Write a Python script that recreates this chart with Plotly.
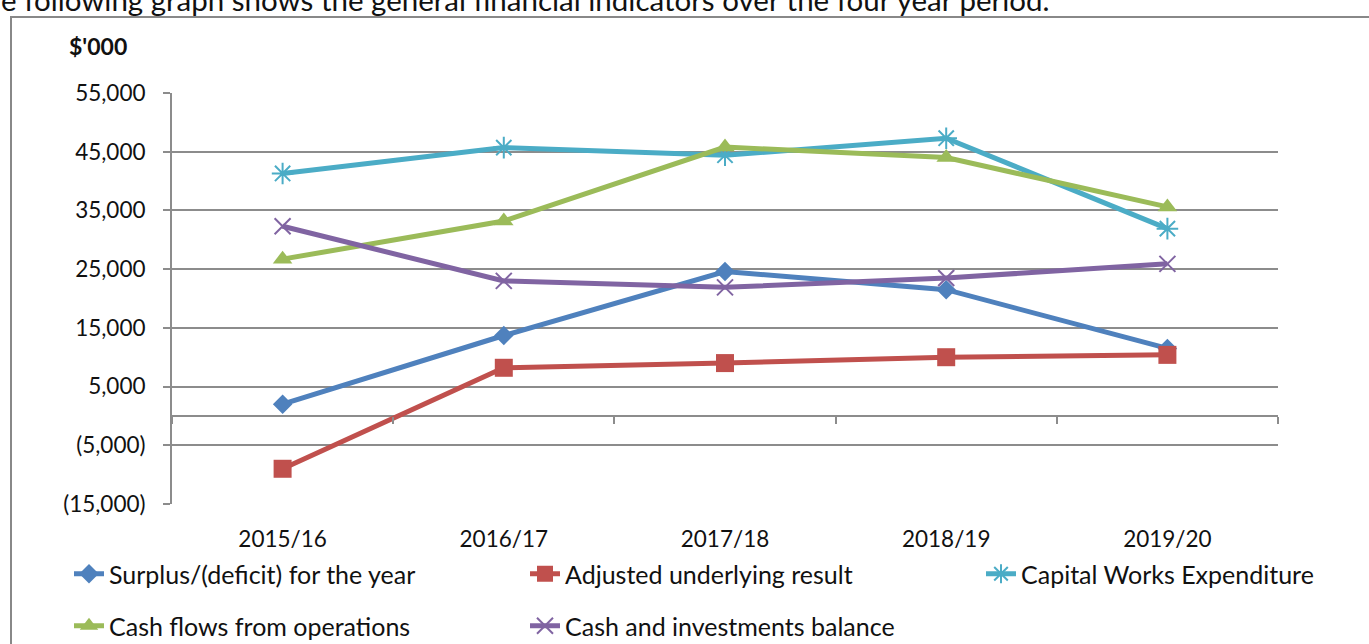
import plotly.graph_objects as go

# Financial years along the category axis
years = ["2015/16", "2016/17", "2017/18", "2018/19", "2019/20"]

# Indicator values, $'000
surplus = [2000, 13700, 24600, 21500, 11500]
adjusted = [-9000, 8200, 9000, 10000, 10400]
capital_works = [41300, 45700, 44400, 47300, 31900]
cash_flows = [26700, 33200, 45800, 44000, 35600]
cash_investments = [32300, 23000, 21900, 23500, 25900]

# Value-axis ticks
y_ticks = [55000, 45000, 35000, 25000, 15000, 5000, -5000, -15000]
y_tick_text = ["55,000", "45,000", "35,000", "25,000", "15,000", "5,000",
               "(5,000)", "(15,000)"]

FONT = "Lato, Carlito, Calibri, sans-serif"
TEXT = "#111111"
GRID = "#8c8c8c"
W, H = 1369, 644
L, R, T, B = 172, 91, 93, 140          # plot area: x 172..1278, y 93..504
PW, PH = W - L - R, H - T - B


def px_x(x):
    return (x - L) / PW


def px_y(y):
    return (H - B - y) / PH


xs = list(range(len(years)))

# name, values, colour, marker, legend id, legend position (px)
series = [
    ("Surplus/(deficit) for the year", surplus, "#4F81BD",
     dict(symbol="diamond", size=15), "legend", (69, 574)),
    ("Adjusted underlying result", adjusted, "#C0504D",
     dict(symbol="square", size=18), "legend2", (525, 574)),
    ("Capital Works Expenditure", capital_works, "#4BACC6",
     dict(symbol="asterisk-open", size=18, line=dict(width=2)), "legend3",
     (981, 574)),
    ("Cash flows from operations", cash_flows, "#9BBB59",
     dict(symbol="triangle-up", size=17), "legend4", (69, 626)),
    ("Cash and investments balance", cash_investments, "#8064A2",
     dict(symbol="x-thin-open", size=16, line=dict(width=2)), "legend5",
     (525, 626)),
]

fig = go.Figure()
legends = {}
for name, vals, color, marker, leg, (lx, ly) in series:
    m = dict(marker)
    m["color"] = color
    if "line" in m:
        m["line"] = dict(m["line"], color=color)
    fig.add_trace(go.Scatter(
        x=xs, y=vals, name=name, mode="lines+markers",
        line=dict(color=color, width=5), marker=m, legend=leg,
    ))
    legends[leg] = dict(
        orientation="h", xanchor="left", yanchor="middle",
        x=px_x(lx), y=px_y(ly),
        font=dict(family=FONT, size=25, color=TEXT),
        bgcolor="rgba(0,0,0,0)", itemwidth=30,
    )

# Category boundary tick marks sitting on the zero line
fig.add_trace(go.Scatter(x=[0], y=[0], xaxis="x2", mode="markers",
                         marker=dict(opacity=0), showlegend=False,
                         hoverinfo="skip"))

fig.update_layout(
    width=W, height=H,
    margin=dict(l=L, r=R, t=T, b=B, pad=0, autoexpand=False),
    paper_bgcolor="white", plot_bgcolor="white",
    font=dict(family=FONT, size=22, color=TEXT),
    xaxis=dict(
        range=[-0.5, len(years) - 0.5], tickvals=xs, ticktext=years,
        showgrid=False, showline=False, zeroline=False, ticks="",
        ticklabelstandoff=19, tickfont=dict(family=FONT, size=22.5),
        automargin=False,
    ),
    xaxis2=dict(
        overlaying="x", anchor="free", position=15000 / 70000,
        range=[-0.5, len(years) - 0.5],
        tickvals=[i - 0.5 for i in range(len(years) + 1)],
        ticks="outside", ticklen=7, tickwidth=2, tickcolor=GRID,
        showticklabels=False, showgrid=False, showline=False, zeroline=False,
    ),
    yaxis=dict(
        range=[-15000, 55000], tickvals=y_ticks, ticktext=y_tick_text,
        showgrid=True, gridcolor=GRID, gridwidth=2,
        zeroline=True, zerolinecolor=GRID, zerolinewidth=2,
        showline=True, linecolor=GRID, linewidth=2,
        ticks="outside", ticklen=7, tickwidth=2, tickcolor=GRID,
        ticklabelstandoff=13, tickfont=dict(family=FONT, size=22.5),
        automargin=False,
    ),
    showlegend=True,
    **legends,
)

# Chart frame
fig.add_shape(type="rect", xref="paper", yref="paper",
              x0=px_x(11), x1=px_x(1390), y0=px_y(17), y1=px_y(700),
              line=dict(color="#888888", width=2), fillcolor="rgba(0,0,0,0)",
              layer="below")

# Units label
fig.add_annotation(text="<b>$'000</b>", xref="paper", yref="paper",
                   x=px_x(67), y=px_y(46), xanchor="left", yanchor="middle",
                   showarrow=False, font=dict(family=FONT, size=23,
                                              color=TEXT))

# Lead-in sentence above the chart
fig.add_annotation(
    text="e following graph shows the general financial indicators over "
         "the four year period.",
    xref="paper", yref="paper", x=px_x(-1), y=px_y(-1),
    xanchor="left", yanchor="middle", showarrow=False,
    font=dict(family=FONT, size=29.5, color=TEXT))

fig.write_html("out.html")
